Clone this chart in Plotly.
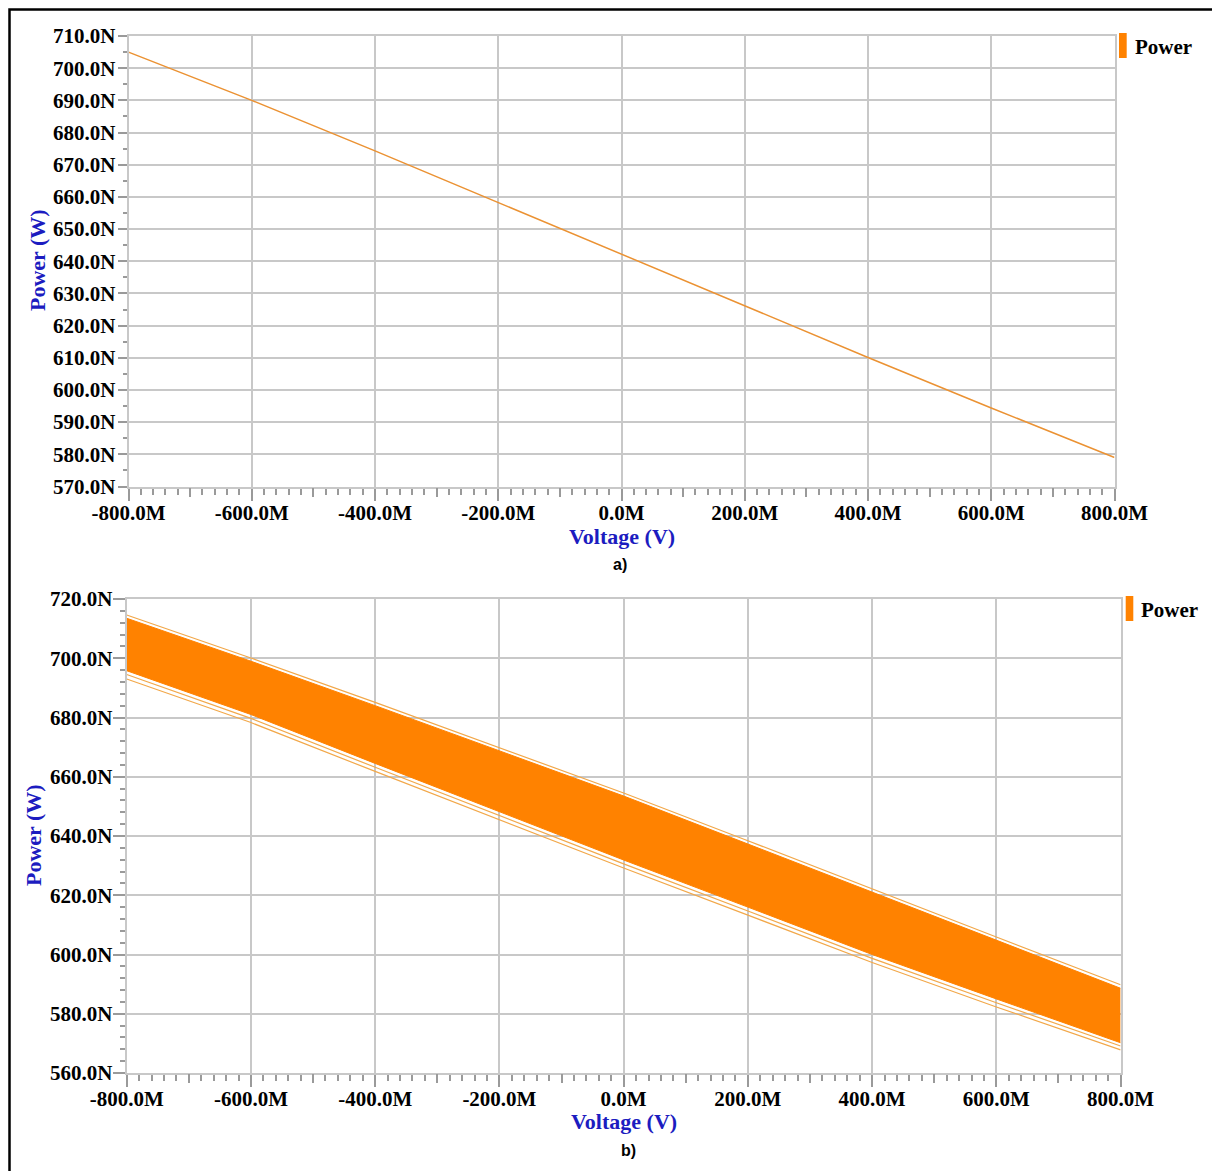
import plotly.graph_objs as go

# page is offset by the browser's 8px body margin, so the figure is a bit smaller
OFF = 8
W, H = 1220 - OFF, 1171 - OFF

# ---- data (a) : single sweep
volt_a = [-800, -600, -400, -200, 0, 200, 400, 600, 800]
power_a = [705.0, 690.0, 674.3, 658.3, 642.3, 626.2, 610.1, 594.4, 579.0]

# ---- data (b) : monte carlo band, read as edges
volt_b = [-800, -600, -400, -200, 0, 200, 400, 600, 800]
band_top = [713.5, 699.0, 684.0, 668.8, 653.5, 637.3, 621.0, 604.8, 588.6]
band_bot = [695.8, 681.0, 664.5, 648.2, 631.9, 616.0, 600.0, 585.0, 570.2]
edge_up = [714.6, 700.1, 685.1, 669.9, 654.5, 638.4, 622.1, 605.9, 589.8]
edge_lo1 = [694.5, 679.7, 663.2, 646.9, 630.6, 614.7, 598.7, 583.7, 569.1]
edge_lo2 = [693.0, 678.3, 661.8, 645.5, 629.2, 613.3, 597.3, 582.3, 567.8]

# ---- ticks
x_ticks = [-800, -600, -400, -200, 0, 200, 400, 600, 800]
x_text = ["-800.0M", "-600.0M", "-400.0M", "-200.0M", "0.0M",
          "200.0M", "400.0M", "600.0M", "800.0M"]
x_mid_ticks = [-700, -500, -300, -100, 100, 300, 500, 700]
ya_ticks = [570, 580, 590, 600, 610, 620, 630, 640, 650, 660, 670, 680, 690, 700, 710]
ya_text = [f"{v}.0N" for v in ya_ticks]
yb_ticks = [560, 580, 600, 620, 640, 660, 680, 700, 720]
yb_text = [f"{v}.0N" for v in yb_ticks]


# page pixel -> paper fraction
def px(x):
    return (x - OFF) / W


def py(y):
    return 1 - (y - OFF) / H


GRID = "#c8c8c8"
TICK = "#9a9a9a"
ORANGE = "#ff8200"
tick_font = dict(family="Liberation Serif", size=21, color="black", weight="bold")

fig = go.Figure()

# (a) line
fig.add_trace(go.Scatter(x=volt_a, y=power_a, mode="lines",
                         line=dict(color="#eb9233", width=1.5),
                         xaxis="x", yaxis="y", hoverinfo="skip"))
# medium tick helper axis for (a)
fig.add_trace(go.Scatter(x=volt_a, y=power_a, mode="lines", opacity=0,
                         xaxis="x3", yaxis="y", hoverinfo="skip"))

# (b) band
fig.add_trace(go.Scatter(x=volt_b, y=band_bot, mode="lines",
                         line=dict(color=ORANGE, width=1),
                         xaxis="x2", yaxis="y2", hoverinfo="skip"))
fig.add_trace(go.Scatter(x=volt_b, y=band_top, mode="lines", fill="tonexty",
                         fillcolor=ORANGE, line=dict(color=ORANGE, width=1),
                         xaxis="x2", yaxis="y2", hoverinfo="skip"))
for edge in (edge_up, edge_lo1, edge_lo2):
    fig.add_trace(go.Scatter(x=volt_b, y=edge, mode="lines",
                             line=dict(color="#f2a84a", width=1.2),
                             xaxis="x2", yaxis="y2", hoverinfo="skip"))
fig.add_trace(go.Scatter(x=volt_b, y=band_top, mode="lines", opacity=0,
                         xaxis="x4", yaxis="y2", hoverinfo="skip"))

common_x = dict(range=[-800, 800], tickvals=x_ticks, ticktext=x_text, automargin=False,
                tickfont=tick_font, showgrid=True, gridcolor=GRID, gridwidth=2,
                zeroline=False, showline=True, mirror=True, linecolor=GRID, linewidth=2,
                ticks="outside", ticklen=12, tickcolor=TICK, tickwidth=1.5,
                ticklabelstandoff=-6,
                minor=dict(dtick=20, ticks="outside", ticklen=6, tickcolor=TICK, showgrid=False))
common_y = dict(tickfont=tick_font, showgrid=True, gridcolor=GRID, gridwidth=2, automargin=False,
                zeroline=False, showline=True, mirror=True, linecolor=GRID, linewidth=2,
                ticks="outside", tickcolor=TICK, tickwidth=1.5)
mid_x = dict(range=[-800, 800], tickvals=x_mid_ticks, ticktext=[""] * 8, automargin=False,
             showgrid=False, zeroline=False, showline=False,
             ticks="outside", ticklen=9, tickcolor=TICK, tickwidth=1.5)

fig.update_layout(
    width=W, height=H,
    margin=dict(l=0, r=0, t=0, b=0, pad=0),
    paper_bgcolor="white", plot_bgcolor="white",
    showlegend=False,
    xaxis=dict(domain=[px(128.5), px(1114.5)], anchor="y", **common_x),
    yaxis=dict(domain=[py(486.5), py(36)], anchor="x", range=[570, 710],
               tickvals=ya_ticks, ticktext=ya_text, ticklen=9, ticklabelstandoff=-2,
               minor=dict(dtick=5, ticks="outside", ticklen=4, tickcolor=TICK, showgrid=False),
               **common_y),
    xaxis2=dict(domain=[px(126.7), px(1120.6)], anchor="y2", **common_x),
    yaxis2=dict(domain=[py(1073), py(599)], anchor="x2", range=[560, 720],
                tickvals=yb_ticks, ticktext=yb_text, ticklen=12, ticklabelstandoff=-4,
                minor=dict(dtick=4, ticks="outside", ticklen=5, tickcolor=TICK, showgrid=False),
                **common_y),
    xaxis3=dict(overlaying="x", anchor="y", **mid_x),
    xaxis4=dict(overlaying="x2", anchor="y2", **mid_x),
)

# axis titles, panel labels, legend
title_font = dict(family="Liberation Serif", size=22, color="#1c1cc0", weight="bold")
notes = [
    ("Power (W)", 37, 260, -90),
    ("Voltage (V)", 622, 536, 0),
    ("Power (W)", 33, 835, -90),
    ("Voltage (V)", 624, 1121, 0),
]
for text, x, y, ang in notes:
    fig.add_annotation(text=text, x=px(x), y=py(y), xref="paper", yref="paper",
                       showarrow=False, textangle=ang, font=title_font,
                       xanchor="center", yanchor="middle")

for text, x, y in [("a)", 620, 565), ("b)", 628, 1150)]:
    fig.add_annotation(text=text, x=px(x), y=py(y), xref="paper", yref="paper",
                       showarrow=False,
                       font=dict(family="Liberation Sans", size=16, color="black", weight="bold"),
                       xanchor="center", yanchor="middle")

legend_items = [(1119, 1126.7, 33, 58, 1133, 47), (1125.7, 1133.3, 596, 621, 1139, 610)]
for x0, x1, y0, y1, tx, ty in legend_items:
    fig.add_shape(type="rect", xref="paper", yref="paper",
                  x0=px(x0), x1=px(x1), y0=py(y1), y1=py(y0),
                  fillcolor=ORANGE, line=dict(width=0))
    fig.add_annotation(text="Power", x=px(tx), y=py(ty), xref="paper", yref="paper",
                       showarrow=False, xanchor="left", yanchor="middle",
                       font=dict(family="Liberation Serif", size=21, color="black", weight="bold"))

# outer frame (left/top edge kept just inside the figure)
fig.add_shape(type="rect", xref="paper", yref="paper",
              x0=px(9.5), x1=px(1215.5), y0=py(1185), y1=py(9.5),
              line=dict(color="black", width=2.5), fillcolor="rgba(0,0,0,0)")

fig.write_html("out.html")
